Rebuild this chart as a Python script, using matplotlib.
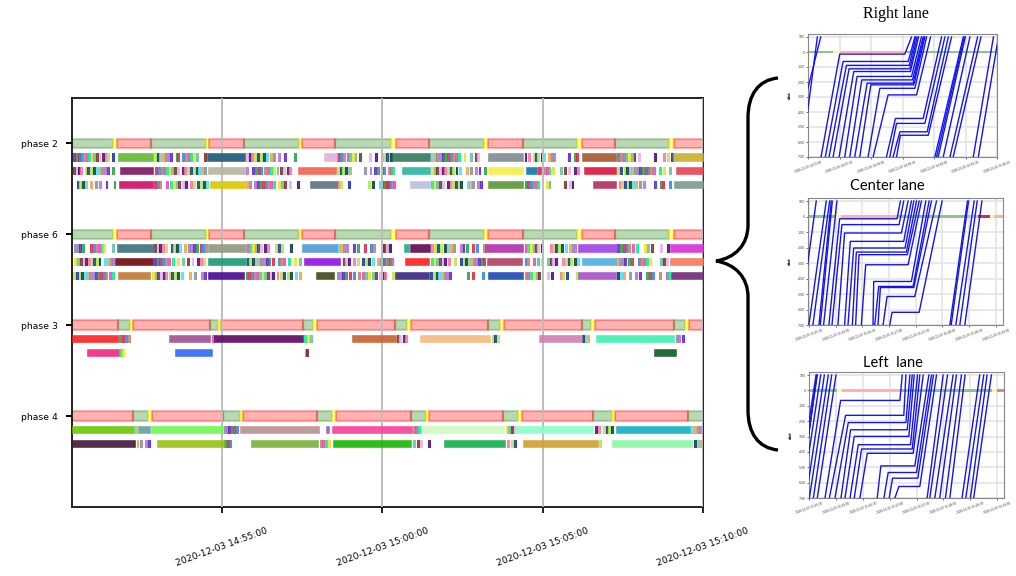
import matplotlib
matplotlib.use('Agg')
import matplotlib.pyplot as plt
from matplotlib.colors import to_rgba
from matplotlib.patches import PathPatch
from matplotlib.path import Path

# everything in seconds after 14:50:00
phase_labels = ['phase 2', 'phase 6', 'phase 3', 'phase 4']
main_ticks = [300, 600, 900, 1200]
main_tick_labels = ['2020-12-03 14:55:00', '2020-12-03 15:00:00', '2020-12-03 15:05:00', '2020-12-03 15:10:00']

# signal states: (start, end)
p2_green = [(19, 96), (168, 270), (341, 444), (512, 616), (688, 791), (863, 965), (1036, 1136)]
p2_yellow = [(96, 103), (270, 276), (444, 450), (616, 625), (791, 798), (965, 973), (1136, 1145)]
p2_red = [(103, 168), (276, 341), (450, 512), (625, 688), (798, 863), (973, 1036), (1145, 1200)]
p3_green = [(106, 128), (278, 293), (452, 471), (624, 646), (798, 820), (973, 991), (1146, 1167)]
p3_yellow = [(128, 134), (293, 298), (471, 478), (646, 654), (820, 828), (991, 998), (1167, 1173)]
p3_red = [(19, 106), (134, 278), (298, 452), (478, 624), (654, 798), (828, 973), (998, 1146), (1173, 1200)]
p4_green = [(134, 162), (301, 334), (477, 506), (653, 681), (826, 854), (995, 1029), (1172, 1200)]
p4_yellow = [(162, 169), (334, 340), (506, 513), (681, 688), (854, 862), (1029, 1036)]
p4_red = [(19, 134), (169, 301), (340, 477), (513, 653), (688, 826), (862, 995), (1036, 1172)]

# long queue discharge bars: (start, end, colour)
long_2a = [(106, 170, '#5fba30'), (271, 343, '#1c5878'), (490, 515, '#e0b0d8'), (618, 690, '#2f7a5a'), (798, 864, '#808a90'), (973, 1038, '#a5582c'), (1144, 1200, '#c8b028')]
long_2b = [(110, 170, '#7d1461'), (274, 343, '#b5b5a0'), (443, 513, '#f4604a'), (636, 690, '#2ab5a0'), (798, 864, '#f8ec48'), (868, 889, '#0878b0'), (978, 1037, '#dc143c'), (1150, 1200, '#e84050')]
long_2c = [(108, 170, '#d00a68'), (278, 343, '#d8c800'), (465, 515, '#5c7080'), (651, 690, '#b8c0e0'), (797, 864, '#5a9838'), (994, 1038, '#b03060'), (1145, 1200, '#7a9a90')]
long_6a = [(104, 172, '#3d7080'), (274, 345, '#909880'), (449, 515, '#5098d8'), (641, 650, '#20a888'), (651, 690, '#600850'), (793, 864, '#b030a8'), (967, 1039, '#a040e8'), (1139, 1200, '#d830d8')]
long_6b = [(99, 170, '#6e0808'), (274, 345, '#189878'), (454, 520, '#9010e8'), (643, 688, '#ff2020'), (796, 862, '#b04060'), (973, 1037, '#50b0e0'), (1138, 1200, '#f87858')]
long_6c = [(106, 166, '#c07830'), (274, 341, '#480890'), (475, 510, '#404818'), (624, 688, '#382880'), (797, 863, '#1848b0'), (967, 1038, '#a850c8'), (1140, 1200, '#702878')]
long_3a = [(20, 106, '#ff2020'), (200, 278, '#a05090'), (285, 451, '#5c0860'), (543, 625, '#c86030'), (670, 802, '#f5b880'), (894, 973, '#d080b0'), (1000, 1146, '#40f0b0')]
long_3b = [(47, 107, '#f02880'), (212, 282, '#3068f8'), (1109, 1149, '#105828')]
long_4a = [(20, 135, '#68c800'), (145, 165, '#60a0a0'), (168, 301, '#70f850'), (334, 482, '#b89090'), (495, 501, '#9060c0'), (505, 655, '#f84098'), (672, 828, '#d0f8c0'), (849, 995, '#88ffc8'), (1038, 1175, '#10b0c0')]
long_4b = [(20, 137, '#401838'), (179, 303, '#98c010'), (354, 480, '#78b038'), (507, 653, '#18b800'), (715, 830, '#10b048'), (864, 1003, '#d0a030'), (1030, 1179, '#88f8a8')]

# single vehicles: start time of each short bar
short_2a = [22, 27, 31, 35, 40, 45, 50, 55, 59, 64, 69, 75, 81, 85, 95, 173, 178, 183, 188, 193, 198, 203, 213, 216, 226, 231, 236, 241, 246, 251, 266,
            345, 350, 355, 360, 365, 371, 377, 382, 390, 395, 404, 416, 434, 516, 521, 527, 533, 538, 543, 548, 556, 575, 587, 597, 602, 607, 612, 615,
            691, 696, 701, 706, 711, 716, 721, 726, 731, 736, 741, 752, 764, 774, 778, 866, 872, 881, 886, 890, 896, 900, 910, 915, 920, 947, 958, 963,
            1040, 1045, 1050, 1055, 1060, 1065, 1070, 1078, 1108, 1125, 1133, 1140]
short_2b = [22, 26, 31, 35, 44, 48, 53, 58, 64, 69, 74, 79, 85, 95, 175, 180, 185, 190, 195, 200, 205, 210, 215, 225, 229, 234, 241, 246, 251, 256, 261, 266,
            345, 357, 362, 367, 372, 379, 384, 390, 396, 402, 409, 415, 421, 426, 515, 520, 525, 530, 535, 538, 565, 576, 585, 590, 597, 602, 610, 615, 618,
            691, 696, 701, 706, 711, 716, 721, 726, 731, 737, 743, 757, 764, 774, 780, 791, 892, 897, 902, 907, 911, 917, 932, 940, 947, 958, 964,
            1040, 1045, 1052, 1056, 1061, 1066, 1071, 1076, 1081, 1086, 1091, 1096, 1101, 1106, 1117, 1125, 1136]
short_2c = [28, 33, 38, 44, 53, 62, 70, 82, 97, 173, 178, 183, 195, 203, 208, 213, 218, 225, 231, 241, 246, 253, 259, 264, 270,
            345, 350, 360, 365, 370, 375, 380, 385, 390, 395, 405, 410, 416, 426, 441, 516, 521, 536, 574, 580, 593, 599, 605, 611, 597, 602, 607, 612, 617, 620,
            691, 696, 701, 706, 711, 721, 726, 731, 736, 741, 746, 758, 763, 768, 777, 783, 866, 871, 876, 881, 886, 890, 907, 911, 940, 949, 954,
            1042, 1047, 1052, 1057, 1062, 1067, 1072, 1080, 1087, 1108, 1119, 1124, 1136]
short_6a = [23, 28, 33, 38, 53, 58, 63, 68, 73, 78, 94, 173, 178, 183, 188, 194, 204, 209, 214, 219, 229, 236, 241, 246, 251, 258, 263, 268,
            346, 351, 356, 361, 366, 371, 379, 384, 399, 405, 410, 427, 516, 521, 526, 532, 545, 552, 566, 577, 582, 599, 608, 613, 597, 602, 607, 612,
            691, 696, 703, 708, 716, 721, 726, 732, 745, 750, 757, 768, 776, 788, 866, 871, 876, 881, 886, 890, 896, 914, 919, 924, 929, 934, 942, 950, 955, 959,
            1040, 1045, 1050, 1055, 1060, 1068, 1075, 1089, 1095, 1103, 1119, 1133]
short_6b = [23, 28, 34, 39, 44, 49, 54, 59, 64, 69, 80, 85, 90, 95, 173, 178, 183, 188, 194, 199, 206, 215, 226, 234, 243, 254, 259, 265,
            346, 351, 357, 362, 367, 372, 377, 382, 387, 394, 404, 409, 415, 424, 434, 444, 526, 531, 536, 546, 553, 562, 568, 574, 580, 590, 595, 601, 608, 613, 597, 602, 607, 617,
            691, 696, 701, 706, 711, 716, 723, 735, 745, 750, 755, 760, 764, 769, 774, 779, 784, 789, 866, 871, 882, 889, 897, 908, 913, 918, 923, 937, 942, 947, 952, 958, 964,
            1038, 1043, 1048, 1053, 1060, 1066, 1078, 1083, 1088, 1093, 1100, 1119, 1125, 1131]
short_6c = [22, 27, 32, 37, 42, 47, 52, 57, 62, 67, 72, 77, 82, 88, 94, 169, 174, 179, 184, 189, 194, 200, 205, 210, 215, 223, 239, 248, 260, 266,
            344, 349, 354, 359, 364, 369, 374, 379, 384, 389, 394, 402, 409, 415, 421, 427, 436, 444, 515, 520, 525, 530, 537, 545, 555, 562, 568, 574, 580, 587, 593, 602, 603, 618,
            690, 695, 700, 705, 710, 715, 720, 725, 758, 768, 786, 866, 871, 877, 882, 887, 892, 908, 915, 932, 937, 944, 963,
            1040, 1045, 1050, 1061, 1072, 1080, 1094, 1099, 1105, 1117, 1130, 1134]
short_3a = [108, 113, 119, 124, 281, 454, 459, 464, 627, 631, 638, 643, 805, 809, 814, 974, 980, 984, 1149, 1154, 1160]
short_3b = [109, 113, 455, 458]
short_4a = [138, 142, 303, 307, 312, 316, 320, 327, 657, 662, 667, 831, 836, 841, 846, 998, 1003, 1013, 1018, 1023, 1028, 1178, 1183, 1189, 1194]
short_4b = [140, 146, 156, 161, 304, 309, 313, 483, 488, 493, 499, 657, 665, 670, 686, 833, 841, 846, 1005, 1183, 1188, 1193]

vehicle_colors = ['#5a1fd0', '#40e0ff', '#c8e040', '#7a2a20', '#f040c0', '#20a040', '#f8a040', '#1030a0',
                  '#e0b0f0', '#00f080', '#e02040', '#8090a0', '#a0f040', '#400870', '#f0e020', '#3080e0',
                  '#b070d0', '#103030', '#ff70a0', '#60c0a0', '#c08060']

# time-space panels: arrive, stop, stop distance, go, exit
right_arrive = [12.4, 16.5, 20, 23.9, 29.6, 35, 39.8, 44.5, 49.3, 57.2, 62, 74.7, 77.9, 81, 84.3]
right_stop = [30.2, 33.4, 36.6, 39.1, 43.6, 46.7, 51.2, 56.3, 59.8, 68.4, 76.3, 83.3, 84.3, 87.5, 88]
right_dist = [-14, -63, -89, -112, -130, -163, -186, -208, -219, -242, -286, -443, -476, -532, -555]
right_go = [92.2, 95.4, 96.4, 97, 97.6, 98.6, 99.5, 100.2, 100.8, 101.8, 103.4, 109.7, 111.3, 113.5, 114.5]
right_exit = [98.6, 101.8, 102.7, 104, 105.3, 108, 109.7, 110.3, 111.3, 112.9, 116.7, 127.2, 130.4, 133.6, 136.7]
right_free_in = [-6, -16.4, 120.8, 122.4, 124, 128.8, 135.2, 138.3, 157.4, 162.2]
right_free_out = [8.9, 12.1, 147.9, 148.8, 149.8, 154.2, 161.5, 164.7, 176.6, 181.4]

center_arrive = [22.5, 25.9, 32.6, 40.1, 43.9, 48.8, 52.5, 58.9, 72, 73.9, 77.6, 83.3, 90.8]
center_stop = [34.5, 37.1, 40.1, 46.5, 50.3, 53.3, 56.3, 63.8, 72.8, 78.4, 80.3, 87.8, 93.4]
center_dist = [-14, -52, -106, -160, -203, -229, -246, -311, -419, -451, -458, -516, -618]
center_go = [99, 101.3, 103.9, 106.5, 108, 109.5, 110.6, 111.4, 115.1, 117, 117.8, 118.9, 123.8]
center_exit = [102.8, 106.5, 111.4, 115.1, 117.8, 120.8, 123.8, 126.4, 131.3, 135, 137.6, 143.3, 149.6]
center_free_in = [-10.8, 0, 4.5, 11.3, 12.8, 16.5, 158.3, 159.8, 165, 169.5, 175.1]
center_free_out = [8.25, 19.5, 23.3, 25.1, 26.3, 31.5, 178.1, 179.3, 185.6, 189, 194.3]

left_arrive = [17.5, 22.4, 28.7, 35.4, 39.9, 45.5, 50.3, 56.6, 76, 83.5, 89.4, 95.8]
left_stop = [35, 40.6, 43.6, 46.2, 50.3, 54.8, 58.5, 64.9, 80.1, 88.3, 93.2, 100.3]
left_dist = [-65, -162, -209, -256, -299, -353, -381, -409, -491, -534, -571, -625]
left_go = [101.4, 105.8, 108.1, 109.6, 111.4, 113.3, 115.2, 116.3, 118.1, 120, 121.5, 123.7]
left_exit = [104, 108.1, 112.6, 115.2, 117.4, 121.1, 123.7, 127.5, 133.8, 136.8, 139, 142.4]
left_free_in = [-10, -13.4, -11.2, -8.2, -3.7, 0, 4.5, 8.9, 131.9, 134.9, 140.5, 146, 152.4, 157.3, 171, 175.2, 180.4, 184]
left_free_out = [8.2, 7.5, 8.9, 12.7, 16.8, 21.2, 25, 29.8, 149.8, 154.7, 161, 164.7, 170.3, 174.4, 190.8, 195.3, 199, 203.9]

dist_ticks = [100, 0, -100, -200, -300, -400, -500, -600, -700]
right_times = ['14:57:00', '14:57:30', '14:58:00', '14:58:30', '14:59:00', '14:59:30', '15:00:00']
lane_times = ['15:25:30', '15:26:00', '15:26:30', '15:27:00', '15:27:30', '15:28:00', '15:28:30', '15:29:00']

GREEN = ('#2e8b22', '#8cc48a')
YELLOW = ('#ffff00', '#fff59a')
RED = ('#ff0000', '#ffb0b0')


def spans(lst):
    return [(a, b - a) for a, b in lst]


def draw_phase(ax, y, green, yellow, red):
    for lst, base, a in [(green, GREEN[0], 0.33), (yellow, YELLOW[0], 0.5), (red, RED[0], 0.3)]:
        ax.broken_barh(spans(lst), (y - 1.05, 2.1), facecolors=to_rgba(base, a), edgecolors=to_rgba(base, 0.3),
                       linewidth=1.6, zorder=2)


def draw_row(ax, y, longs, shorts, offset):
    for i, s in enumerate(shorts):
        c = vehicle_colors[(i * 5 + offset) % len(vehicle_colors)]
        ax.broken_barh([(s, 3.6)], (y - 0.8, 1.6), facecolors=c, edgecolors=c, linewidth=0.8, alpha=0.8, zorder=2)
    for a, b, c in longs:
        ax.broken_barh([(a, b - a)], (y - 0.8, 1.6), facecolors=c, edgecolors=c, linewidth=0.4, alpha=0.9, zorder=3)


def draw_lane(pos, title, title_font, title_size, title_xy, xlim, times, arrive, stop, dist, go, leave, free_in, free_out, bands):
    ax = fig.add_axes(pos)
    for a, b, c in bands:
        ax.broken_barh([(a, b - a)], (-9, 18), facecolors=c, edgecolors='none', zorder=2)
    for a, s, d, g, e in zip(arrive, stop, dist, go, leave):
        ax.plot([a, s, g, e], [-700, d, d, 100], color='#1414f0', lw=1.0, zorder=3)
    for a, e in zip(free_in, free_out):
        ax.plot([a, e], [-700, 100], color='#1414f0', lw=1.0, zorder=3)
    ax.set_xlim(xlim)
    ax.set_ylim(-700, 120)
    ax.set_yticks(dist_ticks)
    ax.set_yticklabels([str(v) for v in dist_ticks], fontsize=2.2, color='#333333')
    ax.set_xticks([30 * i for i in range(len(times))])
    ax.set_xticklabels(['2020-12-03 ' + t for t in times], fontsize=2.0, rotation=20, color='#333333')
    ax.set_ylabel('dist', fontsize=2.6, fontweight='bold', labelpad=4)
    ax.tick_params(length=1.2, width=0.4, pad=1.2)
    ax.grid(color='#e2e2e2', lw=1.1)
    ax.set_axisbelow(True)
    for sp in ax.spines.values():
        sp.set_color('#888888')
        sp.set_linewidth(0.8)
    fig.text(title_xy[0] / W, 1 - title_xy[1] / H, title, family=title_font, fontsize=title_size,
             ha='center', va='center', color='black')


W, H = 1016, 576
fig = plt.figure(figsize=(W / 100, H / 100), dpi=100)

ax = fig.add_axes([72 / W, 1 - 507 / H, 631 / W, 409 / H])
draw_phase(ax, 0, p2_green, p2_yellow, p2_red)
draw_phase(ax, 20, p2_green, p2_yellow, p2_red)
draw_phase(ax, 40, p3_green, p3_yellow, p3_red)
draw_phase(ax, 60, p4_green, p4_yellow, p4_red)
draw_row(ax, 3, long_2a, short_2a, 0)
draw_row(ax, 6, long_2b, short_2b, 3)
draw_row(ax, 9, long_2c, short_2c, 7)
draw_row(ax, 23, long_6a, short_6a, 11)
draw_row(ax, 26, long_6b, short_6b, 14)
draw_row(ax, 29, long_6c, short_6c, 2)
draw_row(ax, 43, long_3a, short_3a, 5)
draw_row(ax, 46, long_3b, short_3b, 9)
draw_row(ax, 63, long_4a, short_4a, 1)
draw_row(ax, 66, long_4b, short_4b, 6)
ax.set_xlim(19.3, 1200)
ax.set_ylim(80, -10)
ax.set_yticks([0, 20, 40, 60])
ax.set_yticklabels(phase_labels, fontsize=6.7)
ax.set_xticks(main_ticks)
ax.set_xticklabels(main_tick_labels, fontsize=6.6, rotation=20)
ax.tick_params(axis='y', length=4, width=1.4, pad=6.5)
ax.tick_params(axis='x', length=4, width=1.2, pad=9.5)
ax.grid(axis='x', color='#bdbdbd', lw=1.4, zorder=5)
ax.set_axisbelow(False)
for sp in ax.spines.values():
    sp.set_linewidth(1.4)
    sp.set_color('#222222')

draw_lane([808 / W, 1 - 157 / H, 189 / W, 123 / H], 'Right lane', 'Liberation Serif', 11.5, (896, 14),
          (0, 180), right_times, right_arrive, right_stop, right_dist, right_go, right_exit, right_free_in, right_free_out,
          [(0, 24, GREEN[1]), (24, 30, YELLOW[1]), (30, 92, RED[1]), (92, 180, GREEN[1])])
draw_lane([808 / W, 1 - 325 / H, 195 / W, 127 / H], 'Center lane', 'Lato', 10.5, (887, 186),
          (-1, 218), lane_times, center_arrive, center_stop, center_dist, center_go, center_exit, center_free_in, center_free_out,
          [(0, 31, GREEN[1]), (31, 36, YELLOW[1]), (36, 99, RED[1]), (99, 177, GREEN[1]), (177, 190, '#9ccfe0'), (190, 203, '#c03060'), (203, 208, YELLOW[1]), (208, 218, RED[1])])
draw_lane([809 / W, 1 - 498 / H, 195 / W, 126 / H], 'Left  lane', 'Lato', 10.5, (893, 363),
          (-0.4, 218), lane_times, left_arrive, left_stop, left_dist, left_go, left_exit, left_free_in, left_free_out,
          [(0, 31, GREEN[1]), (31, 36, YELLOW[1]), (36, 101, RED[1]), (101, 205, GREEN[1]), (205, 210, YELLOW[1]), (210, 218, '#d09070')])

# curly brace, in figure pixels
brace = [(778, 78), (758, 80), (748, 95), (748, 118), (748, 225), (748, 245), (735, 258), (716, 261),
         (735, 264), (748, 277), (748, 297), (748, 410), (748, 433), (758, 448), (778, 450)]
codes = [Path.MOVETO] + [Path.CURVE4] * 3 + [Path.LINETO] + [Path.CURVE4] * 3 + [Path.CURVE4] * 3 + [Path.LINETO] + [Path.CURVE4] * 3
fig.add_artist(PathPatch(Path([(x / W, 1 - y / H) for x, y in brace], codes), fc='none', ec='black', lw=2.4,
                         transform=fig.transFigure))

fig.savefig('out.png', dpi=100)
